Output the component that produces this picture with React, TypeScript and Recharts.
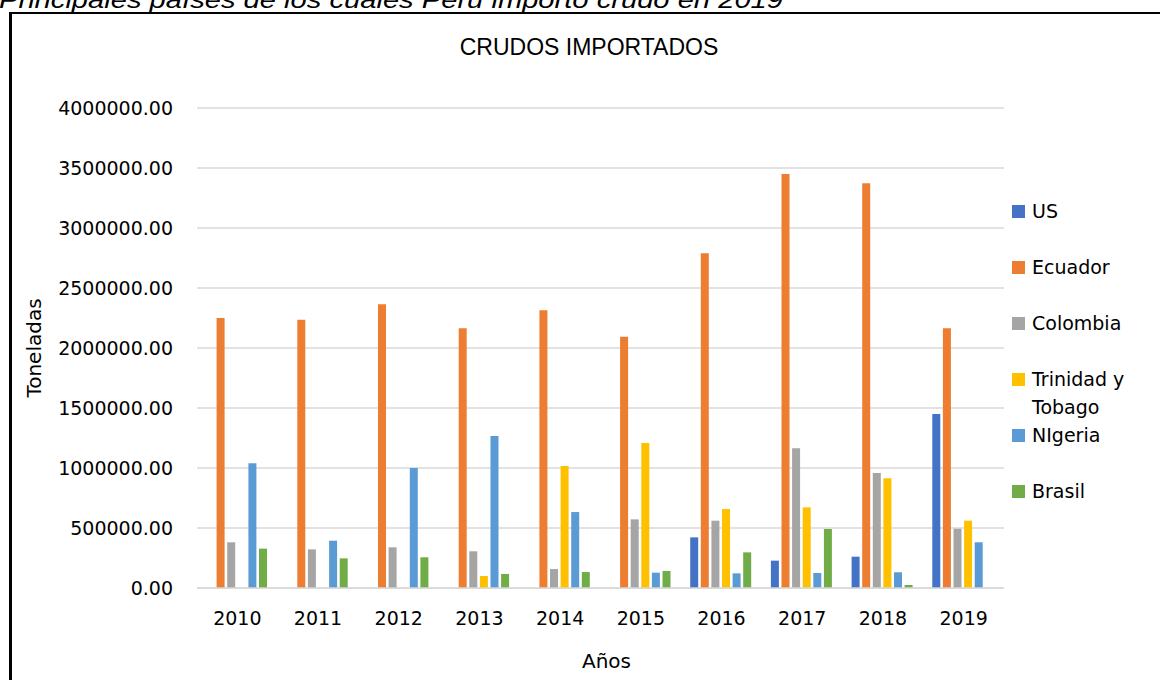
import { Bar, BarChart, CartesianGrid, Label, Legend, XAxis, YAxis } from 'recharts';

const years = ['2010', '2011', '2012', '2013', '2014', '2015', '2016', '2017', '2018', '2019'];

const us = [null, null, null, null, null, null, 422000, 228000, 261000, 1450000];
const ecuador = [2250000, 2236000, 2364000, 2164000, 2314000, 2094000, 2789000, 3450000, 3372000, 2164000];
const colombia = [381000, 322000, 339000, 306000, 158000, 572000, 561000, 1164000, 958000, 494000];
const trinidad = [null, null, null, 100000, 1017000, 1208000, 658000, 672000, 914000, 561000];
const nigeria = [1039000, 394000, 1000000, 1267000, 633000, 128000, 122000, 125000, 131000, 381000];
const brasil = [328000, 247000, 256000, 117000, 133000, 142000, 297000, 492000, 25000, null];

const yTicks = [0, 500000, 1000000, 1500000, 2000000, 2500000, 3000000, 3500000, 4000000];

const series = [
  { key: 'us', label: 'US', color: '#4472C4', values: us },
  { key: 'ecuador', label: 'Ecuador', color: '#ED7D31', values: ecuador },
  { key: 'colombia', label: 'Colombia', color: '#A5A5A5', values: colombia },
  { key: 'trinidad', label: 'Trinidad y\nTobago', color: '#FFC000', values: trinidad },
  { key: 'nigeria', label: 'NIgeria', color: '#5B9BD5', values: nigeria },
  { key: 'brasil', label: 'Brasil', color: '#70AD47', values: brasil },
];

const data = years.map((year, i) => {
  const row: Record<string, string | number | null> = { year };
  for (const s of series) row[s.key] = s.values[i];
  return row;
});

const FONT = '"DejaVu Sans", sans-serif';

// excel-style legend: fixed row height, long names wrap into the next slot
function LegendBox() {
  return (
    <div style={{ fontFamily: FONT, fontSize: 19, color: '#000' }}>
      {series.map((s) => (
        <div key={s.key} style={{ height: 56, display: 'flex', alignItems: 'flex-start' }}>
          <span
            style={{
              width: 13,
              height: 13,
              background: s.color,
              marginTop: 7.5,
              marginRight: 7,
              flex: 'none',
            }}
          />
          <span style={{ lineHeight: '28px', whiteSpace: 'pre' }}>{s.label}</span>
        </div>
      ))}
    </div>
  );
}

export default function App() {
  return (
    <div
      style={{
        position: 'fixed',
        left: 0,
        top: 0,
        width: 1160,
        height: 680,
        overflow: 'hidden',
        background: '#fff',
      }}
    >
      <svg width={1160} height={30} style={{ position: 'absolute', left: 0, top: 0 }}>
        <text
          x={-1}
          y={8}
          fontFamily='"Liberation Sans", Arial, sans-serif'
          fontStyle="italic"
          fontSize={24}
          textLength={784}
          lengthAdjust="spacingAndGlyphs"
        >
          Principales países de los cuales Perú importó crudo en 2019
        </text>
      </svg>
      <div
        style={{
          position: 'absolute',
          left: 9,
          top: 12,
          width: 1300,
          height: 800,
          borderLeft: '3px solid #000',
          borderTop: '2px solid #000',
        }}
      />
      <div
        style={{
          position: 'absolute',
          left: 0,
          top: 36,
          width: 1178,
          textAlign: 'center',
          fontFamily: '"Liberation Sans", Arial, sans-serif',
          fontSize: 23,
          lineHeight: 1,
        }}
      >
        CRUDOS IMPORTADOS
      </div>
      <div style={{ position: 'absolute', left: 0, top: 0 }}>
        <BarChart
          width={1160}
          height={680}
          data={data}
          margin={{ top: 108, right: 156, bottom: 0, left: 0 }}
          barCategoryGap={9}
          barGap={2.6}
        >
          <CartesianGrid vertical={false} stroke="#d9d9d9" strokeWidth={1.5} />
          <XAxis
            dataKey="year"
            height={92}
            axisLine={{ stroke: '#d9d9d9', strokeWidth: 1.5 }}
            tickLine={false}
            tickSize={0}
            tickMargin={24}
            tick={{ fill: '#000', fontSize: 19, fontFamily: FONT }}
          >
            <Label
              value="Años"
              position="insideBottom"
              offset={12}
              dx={6}
              style={{ fill: '#000', fontSize: 20, fontFamily: FONT }}
            />
          </XAxis>
          <YAxis
            width={197}
            domain={[0, 4000000]}
            ticks={yTicks}
            interval={0}
            axisLine={false}
            tickLine={false}
            tickSize={0}
            tickMargin={24}
            tickFormatter={(v: number) => v.toFixed(2)}
            tick={{ fill: '#000', fontSize: 19, fontFamily: FONT }}
          >
            <Label
              value="Toneladas"
              angle={-90}
              position="insideLeft"
              offset={34}
              style={{ fill: '#000', fontSize: 20, fontFamily: FONT, textAnchor: 'middle' }}
            />
          </YAxis>
          <Legend
            layout="horizontal"
            verticalAlign="middle"
            content={() => <LegendBox />}
            wrapperStyle={{ position: 'absolute', left: 1012, top: 197, width: 148 }}
          />
          {series.map((s) => (
            <Bar key={s.key} dataKey={s.key} name={s.label} fill={s.color} isAnimationActive={false} />
          ))}
        </BarChart>
      </div>
    </div>
  );
}
